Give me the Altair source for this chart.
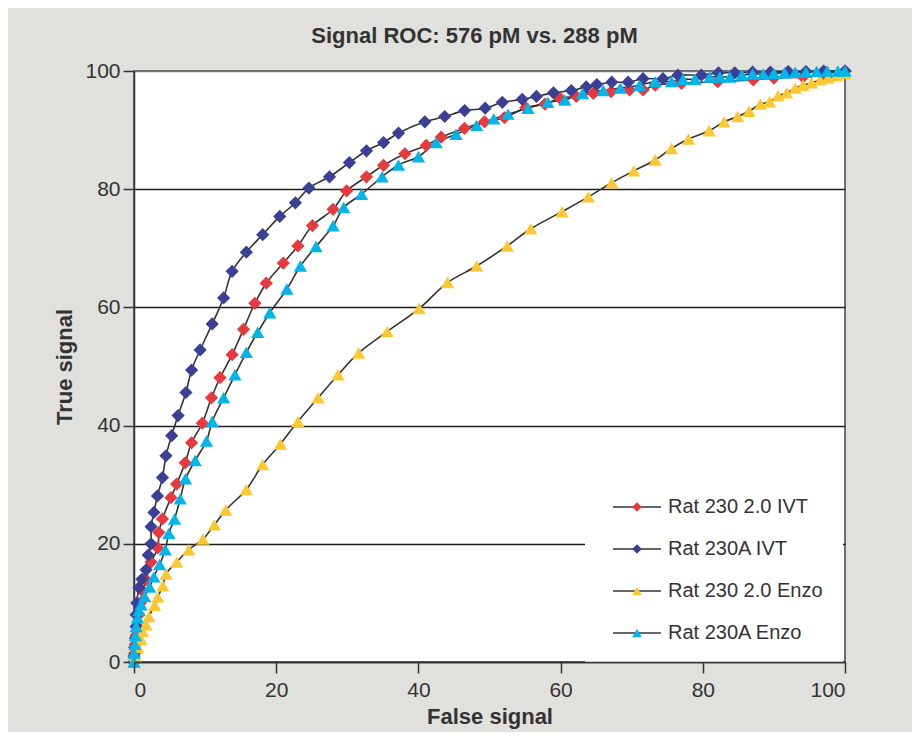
import altair as alt
import pandas as pd

series_names = ["Rat 230 2.0 IVT", "Rat 230A IVT", "Rat 230 2.0 Enzo", "Rat 230A Enzo"]
series_colors = ["#e8393f", "#3b3f96", "#fcc832", "#00b5ea"]
series_shapes = ["diamond", "diamond", "triangle-up", "triangle-up"]

red_x = [0, 0.1, 0.2, 0.3, 0.5, 0.7, 0.9, 1.2, 1.7, 2.4, 3.35, 3.5, 4.0, 5.2, 6.0, 7.2, 8.1, 9.6, 10.9, 12.1,
         13.8, 15.4, 17.0, 18.6, 21.0, 23.05, 25.1, 28.0, 29.9, 32.7, 35.1, 38.1, 41.1, 43.2, 46.5, 49.3, 52.1,
         55.1, 57.8, 59.9, 62.2, 64.6, 67.1, 69.7, 71.6, 73.3, 77.0, 82.1, 87.1, 90.0, 94.1, 97.0, 100]
red_y = [0, 1.5, 3, 4.5, 6, 8, 10, 12, 13.9, 16.9, 19.3, 21.9, 24.2, 27.8, 30.1, 33.7, 37.1, 40.4, 44.7, 48.1,
         52.0, 56.3, 60.7, 64.1, 67.5, 70.4, 73.85, 76.6, 79.7, 82.1, 84.05, 86.0, 87.4, 88.8, 90.3, 91.4, 92.1,
         93.8, 94.4, 95.4, 95.7, 96.2, 96.5, 96.8, 96.8, 97.6, 97.9, 98.2, 98.5, 98.8, 99.0, 99.5, 100]

navy_x = [0, 0, 0.1, 0.2, 0.3, 0.3, 0.4, 0.7, 1.1, 1.7, 2.0, 2.4, 2.4, 2.8, 3.3, 4.0, 4.5, 5.3, 6.2, 7.3,
          8.1, 9.3, 11.0, 12.6, 13.8, 15.8, 18.1, 20.5, 22.7, 24.6, 27.5, 30.3, 32.7, 35.1, 37.2, 40.9, 43.7,
          46.5, 49.4, 51.8, 54.6, 56.6, 59.0, 61.5, 63.6, 65.1, 67.2, 69.5, 71.6, 74.4, 76.5, 79.8, 82.2, 84.5,
          87.0, 89.5, 92.0, 94.5, 97.0, 100]
navy_y = [0, 1, 2.5, 4, 6, 8, 10, 12.6, 14.0, 15.6, 18.1, 20.0, 22.9, 25.3, 28.1, 31.2, 34.9, 38.3, 41.7, 45.6,
          49.4, 52.8, 57.2, 61.6, 66.1, 69.35, 72.3, 75.4, 77.7, 80.2, 82.1, 84.5, 86.5, 87.9, 89.5, 91.4, 92.3,
          93.3, 93.7, 94.7, 95.2, 95.7, 96.3, 96.7, 97.3, 97.7, 98.1, 98.1, 98.7, 98.7, 99.3, 99.3, 99.7, 99.7,
          99.8, 99.8, 99.9, 99.9, 100, 100]

yellow_x = [0, 0.2, 0.5, 1.0, 1.2, 1.7, 2.1, 2.9, 3.35, 4.05, 4.5, 6.0, 7.7, 9.7, 11.3, 12.9, 15.8, 18.1, 20.6,
            23.05, 25.9, 28.7, 31.6, 35.6, 40.1, 44.1, 48.2, 52.5, 55.8, 60.2, 63.9, 67.2, 70.3, 73.3, 75.6, 78.0,
            80.9, 83.0, 84.9, 86.5, 88.1, 89.4, 90.6, 91.8, 93.0, 94.1, 95.3, 96.5, 97.6, 98.8, 100]
yellow_y = [0, 1, 2.5, 3.8, 5.2, 6.3, 7.7, 9.6, 11.0, 12.9, 14.9, 16.9, 19.0, 20.8, 23.2, 25.7, 29.2, 33.4, 36.9,
            40.7, 44.7, 48.6, 52.3, 55.9, 59.8, 64.2, 67.0, 70.4, 73.3, 76.2, 78.7, 81.1, 83.1, 84.95, 86.9, 88.5,
            89.9, 91.4, 92.3, 93.2, 94.4, 94.8, 95.8, 96.3, 97.1, 97.6, 98.0, 98.5, 98.8, 99.2, 99.6]

cyan_x = [0, 0, 0.1, 0.2, 0.3, 0.5, 0.7, 1.0, 1.5, 2.2, 2.8, 3.6, 4.4, 4.9, 5.7, 6.5, 7.25, 8.6, 10.2, 11.0,
          12.6, 14.2, 15.8, 17.4, 19.1, 21.5, 23.4, 25.6, 28.0, 29.5, 32.0, 34.9, 37.2, 40.0, 42.5, 45.3, 48.2,
          50.6, 52.6, 55.4, 58.2, 60.6, 63.1, 66.0, 68.4, 71.1, 73.3, 75.6, 77.2, 78.9, 81.0, 82.4, 83.8, 85.5,
          87.0, 88.5, 90.0, 91.5, 93.0, 94.5, 96.0, 97.5, 99.0, 100]
cyan_y = [0, 1.5, 3, 4.5, 6, 7.5, 8.7, 9.7, 11.1, 12.7, 14.4, 16.5, 19.0, 21.8, 24.2, 27.6, 31.0, 34.1, 37.4, 40.7,
          44.7, 48.6, 52.4, 55.8, 59.1, 63.1, 67.0, 70.3, 73.8, 76.9, 79.15, 82.1, 84.1, 85.5, 87.9, 89.3, 90.8,
          91.9, 92.7, 93.7, 94.7, 95.1, 96.2, 96.7, 97.1, 97.6, 98.2, 98.2, 98.6, 98.6, 99.0, 99.0, 99.0, 99.3,
          99.5, 99.5, 99.6, 99.7, 99.8, 99.8, 99.9, 100, 100, 100]

tick_values = [0, 20, 40, 60, 80, 100]

rows = []
for name, xs, ys in zip(series_names, [red_x, navy_x, yellow_x, cyan_x], [red_y, navy_y, yellow_y, cyan_y]):
    for i, (xv, yv) in enumerate(zip(xs, ys)):
        rows.append({"series": name, "series_line": name, "idx": i, "x": xv, "y": yv})
df = pd.DataFrame(rows)

FONT = "Liberation Sans"
TXT = "#333333"

x_enc = alt.X("x:Q", scale=alt.Scale(domain=[0, 100], nice=False),
              axis=alt.Axis(values=tick_values, title="False signal", grid=False,
                            labelPadding=6, titlePadding=6, zindex=1))
y_enc = alt.Y("y:Q", scale=alt.Scale(domain=[0, 100], nice=False),
              axis=alt.Axis(values=tick_values, title="True signal", grid=True,
                            gridColor={"condition": {"test": "datum.value >= 100", "value": "#777777"},
                                       "value": "#1e1e1e"},
                            gridWidth=1.3, labelPadding=3, titlePadding=8))

base = alt.Chart(df)

# line legend (drawn first): white box + 48px line symbols + labels
lines = base.mark_line(strokeWidth=1.6, interpolate="catmull-rom").encode(
    x=x_enc, y=y_enc,
    color=alt.Color("series_line:N", sort=series_names,
                    scale=alt.Scale(range=["#333333"] * 4),
                    legend=alt.Legend(orient="none", legendX=451, legendY=406, title=None,
                                      symbolType="M-5,0H5", symbolSize=92, symbolStrokeWidth=1.6,
                                      labelFontSize=20, labelColor=TXT, labelFont=FONT,
                                      labelOffset=21, rowPadding=22, padding=20, symbolOffset=22,
                                      fillColor="white", labelLimit=300)),
    order="idx:Q",
    detail="series:N",
)

# marker legend drawn on top of the line legend (no labels of its own)
points = base.mark_point(filled=True, opacity=1, strokeWidth=0, size=175).encode(
    x=x_enc, y=y_enc,
    fill=alt.Fill("series:N", scale=alt.Scale(domain=series_names, range=series_colors),
                  legend=alt.Legend(orient="none", legendX=465, legendY=418, title=None,
                                    symbolSize=92, labelExpr="''", labelFontSize=20,
                                    labelFont=FONT, labelOffset=20,
                                    padding=8, symbolOffset=20, rowPadding=22)),
    shape=alt.Shape("series:N", scale=alt.Scale(domain=series_names, range=series_shapes)),
)

chart = alt.layer(lines, points).properties(
    width=711, height=591,
    autosize=alt.AutoSizeParams(type="none"),
    padding={"left": 126, "top": 63, "right": 67, "bottom": 70},
    background="#e0e0dc",
    title=alt.TitleParams("Signal ROC: 576 pM vs. 288 pM", fontSize=22, font=FONT,
                          fontWeight="bold", color=TXT, offset=12, dx=-15),
).configure_view(
    fill="white", stroke="#444444", strokeWidth=1.5,
).configure_axis(
    domainColor=TXT, domainWidth=1.5, tickColor=TXT, tickWidth=1.5, tickSize=11,
    labelFontSize=21, labelColor=TXT, labelFont=FONT,
    titleFontSize=22, titleColor=TXT, titleFont=FONT, titleFontWeight="bold",
)

chart.save("out.html", embed_options={"renderer": "svg", "actions": False})
